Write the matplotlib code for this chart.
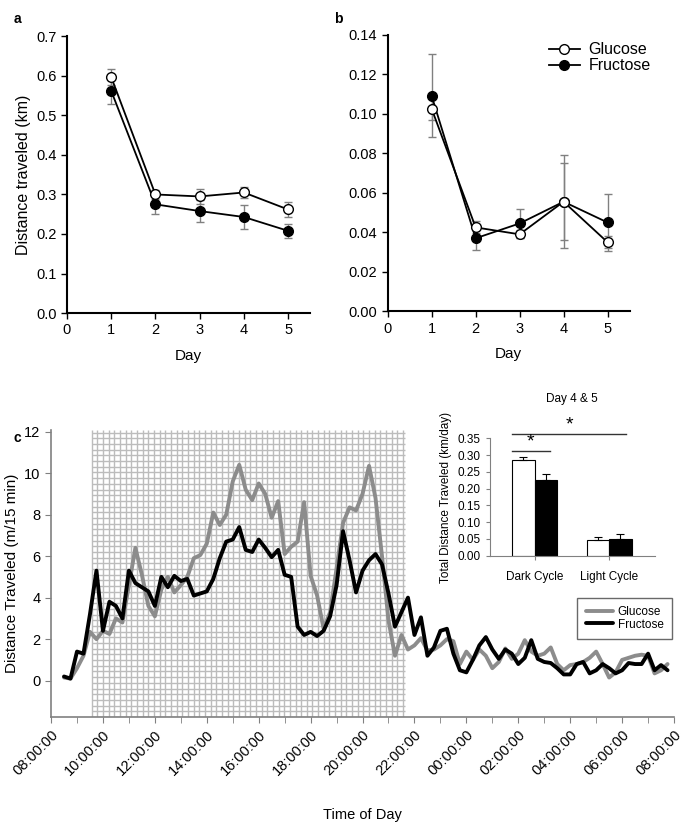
import numpy as np
import matplotlib
matplotlib.use("Agg")
import matplotlib.pyplot as plt

plt.rcParams['font.family'] = ['Liberation Sans', 'DejaVu Sans']

# panel a / b : daily distance
days = [1, 2, 3, 4, 5]
a_glucose = [0.597, 0.300, 0.295, 0.305, 0.262]
a_glucose_err = [0.020, 0.012, 0.020, 0.013, 0.018]
a_fructose = [0.562, 0.275, 0.258, 0.243, 0.208]
a_fructose_err = [0.032, 0.025, 0.027, 0.030, 0.018]

b_glucose = [0.1025, 0.0425, 0.039, 0.0555, 0.035]
b_glucose_err = [0.0055, 0.003, 0.002, 0.0195, 0.003]
b_fructose = [0.109, 0.037, 0.0445, 0.0555, 0.045]
b_fructose_err = [0.021, 0.006, 0.0075, 0.0235, 0.0145]

# panel c : 15 min bins, hours after 08:00 (08:30 .. 07:45)
times = np.arange(0.5, 24.0, 0.25)
c_fructose = [
    0.2, 0.1, 1.4, 1.3, 3.2, 5.3, 2.4, 3.8,
    3.6, 3.0, 5.3, 4.7, 4.5, 4.3, 3.6, 5.0,
    4.5, 5.05, 4.8, 4.9, 4.1, 4.2, 4.3, 4.9,
    5.9, 6.7, 6.8, 7.4, 6.3, 6.2, 6.8, 6.4,
    5.95, 6.3, 5.1, 5.0, 2.6, 2.2, 2.35, 2.15,
    2.4, 3.1, 4.6, 7.2, 5.8, 4.25, 5.3, 5.8,
    6.1, 5.6, 4.2, 2.6, 3.3, 4.0, 2.2, 3.05,
    1.2, 1.6, 2.4, 2.5, 1.3, 0.5, 0.4, 1.0,
    1.7, 2.1, 1.5, 1.05, 1.5, 1.3, 0.8, 1.1,
    1.95, 1.05, 0.9, 0.85, 0.6, 0.3, 0.3, 0.8,
    0.9, 0.35, 0.5, 0.8, 0.6, 0.35, 0.5, 0.85,
    0.8, 0.8, 1.3, 0.5, 0.75, 0.5,
]
c_glucose = [
    0.15, 0.1, 0.6, 1.2, 2.35, 2.0, 2.4, 2.25,
    3.0, 2.8, 4.6, 6.4, 5.1, 3.6, 3.1, 4.4,
    5.0, 4.25, 4.6, 5.0, 5.9, 6.05, 6.6, 8.1,
    7.5, 8.0, 9.6, 10.4, 9.2, 8.7, 9.5, 9.0,
    7.85, 8.65, 6.1, 6.45, 6.7, 8.6, 5.05, 4.1,
    2.5, 3.3, 5.4, 7.6, 8.35, 8.2, 9.0, 10.35,
    8.8, 6.0, 2.9, 1.2, 2.2, 1.5, 1.7, 2.05,
    1.45, 1.5, 1.7, 2.0, 1.9, 0.8, 1.4, 1.0,
    1.5, 1.2, 0.6, 0.9, 1.55, 1.05, 1.3, 1.95,
    1.4, 1.2, 1.3, 1.6, 0.8, 0.5, 0.75, 0.8,
    0.9, 1.1, 1.4, 0.8, 0.15, 0.4, 1.0, 1.1,
    1.2, 1.25, 1.2, 0.35, 0.5, 0.8,
]
time_labels = ["08:00:00", "10:00:00", "12:00:00", "14:00:00", "16:00:00",
               "18:00:00", "20:00:00", "22:00:00", "00:00:00", "02:00:00",
               "04:00:00", "06:00:00", "08:00:00"]
dark_start, dark_end = 1.57, 13.62

# inset : day 4 & 5 totals
cycles = ["Dark Cycle", "Light Cycle"]
tot_glucose = [0.284, 0.046]
tot_glucose_err = [0.011, 0.009]
tot_fructose = [0.227, 0.051]
tot_fructose_err = [0.017, 0.013]

fig = plt.figure(figsize=(6.85, 8.26), dpi=100)


def day_panel(ax, g, ge, f, fe, ymax, ystep, fmt):
    ax.errorbar(days, f, yerr=fe, fmt='none', ecolor='#808080', elinewidth=1,
                capsize=3, capthick=1, zorder=1)
    ax.errorbar(days, g, yerr=ge, fmt='none', ecolor='#808080', elinewidth=1,
                capsize=3, capthick=1, zorder=1)
    ax.plot(days, f, '-o', color='black', mfc='black', mec='black', ms=7,
            lw=1.3, label='Fructose', zorder=2)
    ax.plot(days, g, '-o', color='black', mfc='white', mec='black', ms=7,
            lw=1.3, label='Glucose', zorder=3)
    ax.set_xlim(0, 5.5)
    ax.set_ylim(0, ymax)
    ax.set_xticks([0, 1, 2, 3, 4, 5])
    ax.set_yticks(np.arange(0, ymax + ystep / 2, ystep))
    ax.yaxis.set_major_formatter(plt.FormatStrFormatter(fmt))
    for s in ['top', 'right']:
        ax.spines[s].set_visible(False)
    for s in ['left', 'bottom']:
        ax.spines[s].set_linewidth(1.5)
    ax.tick_params(direction='out', length=4, width=1, labelsize=10.5)
    ax.set_xlabel('Day', fontsize=11, labelpad=8)


ax_a = fig.add_axes([0.0978, 0.621, 0.355, 0.335])
day_panel(ax_a, a_glucose, a_glucose_err, a_fructose, a_fructose_err, 0.7, 0.1, '%.1f')
ax_a.set_ylabel('Distance traveled (km)', fontsize=11.5)

ax_b = fig.add_axes([0.566, 0.623, 0.353, 0.335])
day_panel(ax_b, b_glucose, b_glucose_err, b_fructose, b_fructose_err, 0.14, 0.02, '%.2f')
h, l = ax_b.get_legend_handles_labels()
ax_b.legend(h[::-1], l[::-1], loc='upper left', bbox_to_anchor=(0.665, 0.972),
            frameon=False, fontsize=11.5, handlelength=2.0, handletextpad=0.5,
            labelspacing=0.05, borderaxespad=0, borderpad=0)

fig.text(0.02, 0.985, 'a', fontsize=10, fontweight='bold', va='top')
fig.text(0.487, 0.985, 'b', fontsize=10, fontweight='bold', va='top')
fig.text(0.02, 0.478, 'c', fontsize=10, fontweight='bold', va='top')

# panel c
ax_c = fig.add_axes([0.0745, 0.132, 0.9095, 0.348])
ax_c.set_xlim(0, 24)
ax_c.set_ylim(-1.75, 12.1)
grid_col = '#bcbcbc'
ax_c.vlines(np.arange(dark_start, dark_end + 0.01, 0.218), -1.75, 12.1,
            color=grid_col, lw=1.0, zorder=0)
ax_c.hlines(np.arange(-1.75, 12.1, 0.274), dark_start, dark_end,
            color=grid_col, lw=1.0, zorder=0)
ax_c.plot(times, c_glucose, color='#8c8c8c', lw=2.8, label='Glucose',
          solid_joinstyle='round', solid_capstyle='round', zorder=2)
ax_c.plot(times, c_fructose, color='black', lw=2.8, label='Fructose',
          solid_joinstyle='round', solid_capstyle='round', zorder=3)
ax_c.set_xticks(np.arange(0, 25, 2))
ax_c.set_xticks(np.arange(0, 25, 1), minor=True)
ax_c.set_xticklabels(time_labels, rotation=45, ha='right', va='top',
                     rotation_mode='anchor')
ax_c.set_yticks(np.arange(0, 13, 2))
for s in ['top', 'right']:
    ax_c.spines[s].set_visible(False)
for s in ['left', 'bottom']:
    ax_c.spines[s].set_color('#808080')
    ax_c.spines[s].set_linewidth(1.2)
ax_c.tick_params(axis='both', which='both', direction='out', color='#808080',
                 length=4, labelsize=10.5)
ax_c.set_ylabel('Distance Traveled (m/15 min)', fontsize=11)
ax_c.set_xlabel('Time of Day', fontsize=10.5, labelpad=22)
ax_c.legend(loc='upper left', bbox_to_anchor=(0.845, 0.415), frameon=True,
            fancybox=False, edgecolor='#444444', fontsize=8.5, handlelength=2.3,
            borderpad=0.7, labelspacing=0.05, handletextpad=0.4, borderaxespad=0)

# inset
ax_i = fig.add_axes([0.715, 0.3272, 0.241, 0.1421])
x = np.arange(len(cycles))
w = 0.3
ax_i.bar(x - w / 2, tot_glucose, w, color='white', edgecolor='black', lw=0.8,
         yerr=[[0, 0], tot_glucose_err], error_kw=dict(ecolor='black', lw=0.8, capsize=3, capthick=0.8))
ax_i.bar(x + w / 2, tot_fructose, w, color='black', edgecolor='black', lw=0.8,
         yerr=[[0, 0], tot_fructose_err], error_kw=dict(ecolor='black', lw=0.8, capsize=3, capthick=0.8))
ax_i.set_xlim(-0.6, 1.61)
ax_i.set_ylim(0, 0.35)
ax_i.set_yticks(np.arange(0, 0.36, 0.05))
ax_i.yaxis.set_major_formatter(plt.FormatStrFormatter('%.2f'))
ax_i.set_xticks(x)
ax_i.set_xticklabels(cycles)
for s in ['top', 'right']:
    ax_i.spines[s].set_visible(False)
for s in ['left', 'bottom']:
    ax_i.spines[s].set_color('#808080')
ax_i.tick_params(direction='out', length=3, color='#808080', labelsize=8.5)
ax_i.tick_params(axis='x', pad=8)
ax_i.set_ylabel('Total Distance Traveled (km/day)', fontsize=8.5)
ax_i.set_title('Day 4 & 5', fontsize=8.5, pad=26)
ax_i.plot([-0.3, 0.2], [0.312, 0.312], color='#333333', lw=1, clip_on=False)
ax_i.text(-0.05, 0.314, '*', ha='center', va='bottom', fontsize=14)
ax_i.plot([-0.3, 1.22], [0.362, 0.362], color='#333333', lw=1, clip_on=False)
ax_i.text(0.47, 0.364, '*', ha='center', va='bottom', fontsize=14)

fig.savefig('out.png', dpi=100)
